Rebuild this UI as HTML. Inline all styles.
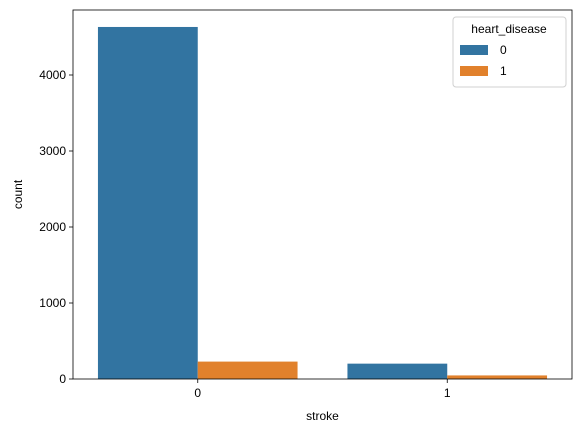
<!DOCTYPE html>
<html><head><meta charset="utf-8"><style>
body{margin:0;background:#fff}
text{font-family:"Liberation Sans","DejaVu Sans",sans-serif;fill:#000}
</style></head><body>
<svg id="c" width="580" height="432" xmlns="http://www.w3.org/2000/svg">
<rect width="580" height="432" fill="#fff"/>
<g id="plot"></g>
</svg>
<script>
const categories=["0","1"];
const hd0=[4632,202];
const hd1=[229,47];
const yTicks=[0,1000,2000,3000,4000];
const L=73,R=572,T=10,B=379;
const yScale=v=>B-v*0.076;
const catW=(R-L)/categories.length;
const xCenter=i=>L+catW*(i+0.5);
const bw=catW*0.4;
const ns="http://www.w3.org/2000/svg";
const g=document.getElementById('plot');
function el(t,a,p){const e=document.createElementNS(ns,t);for(const k in a)e.setAttribute(k,a[k]);(p||g).appendChild(e);return e;}
const series=[{v:hd0,c:"#3274a1",off:-1,n:"0"},{v:hd1,c:"#e1812c",off:0,n:"1"}];
series.forEach((s,si)=>{s.v.forEach((v,i)=>{
 const r=el('rect',{x:xCenter(i)+s.off*bw,y:yScale(v),width:bw,height:B-yScale(v),fill:s.c});
 
 
});});
const frame=el('rect',{x:L,y:T,width:R-L,height:B-T,fill:'none',stroke:'#000','stroke-width':0.8});


yTicks.forEach(t=>{const y=yScale(t);
 el('line',{x1:L-4,x2:L,y1:y,y2:y,stroke:'#000','stroke-width':0.8});
 const tx=el('text',{x:L-7,y:y+4,'text-anchor':'end','font-size':12});tx.textContent=t;
 
 
});
categories.forEach((c,i)=>{const x=xCenter(i);
 el('line',{x1:x,x2:x,y1:B,y2:B+4,stroke:'#000','stroke-width':0.8});
 const tx=el('text',{x:x,y:B+18,'text-anchor':'middle','font-size':12});tx.textContent=c;
 
 
});
const xt=el('text',{x:(L+R)/2,y:420,'text-anchor':'middle','font-size':12});xt.textContent='stroke';


const yt=el('text',{x:0,y:0,'text-anchor':'middle','font-size':12,transform:`translate(22,${(T+B)/2}) rotate(-90)`});yt.textContent='count';


const lg=el('g',{});


el('rect',{x:453,y:17,width:113,height:70,rx:3,fill:'#fff',stroke:'#ccc','stroke-width':1,opacity:0.9},lg);
const lt=el('text',{x:509,y:33,'text-anchor':'middle','font-size':12},lg);lt.textContent='heart_disease';
series.forEach((s,i)=>{const y=49+i*21;
 el('rect',{x:460,y:y-4,width:28,height:10,fill:s.c},lg);
 const t=el('text',{x:500,y:y+5,'font-size':12},lg);t.textContent=s.n;
 
 
});
</script>
</body></html>
